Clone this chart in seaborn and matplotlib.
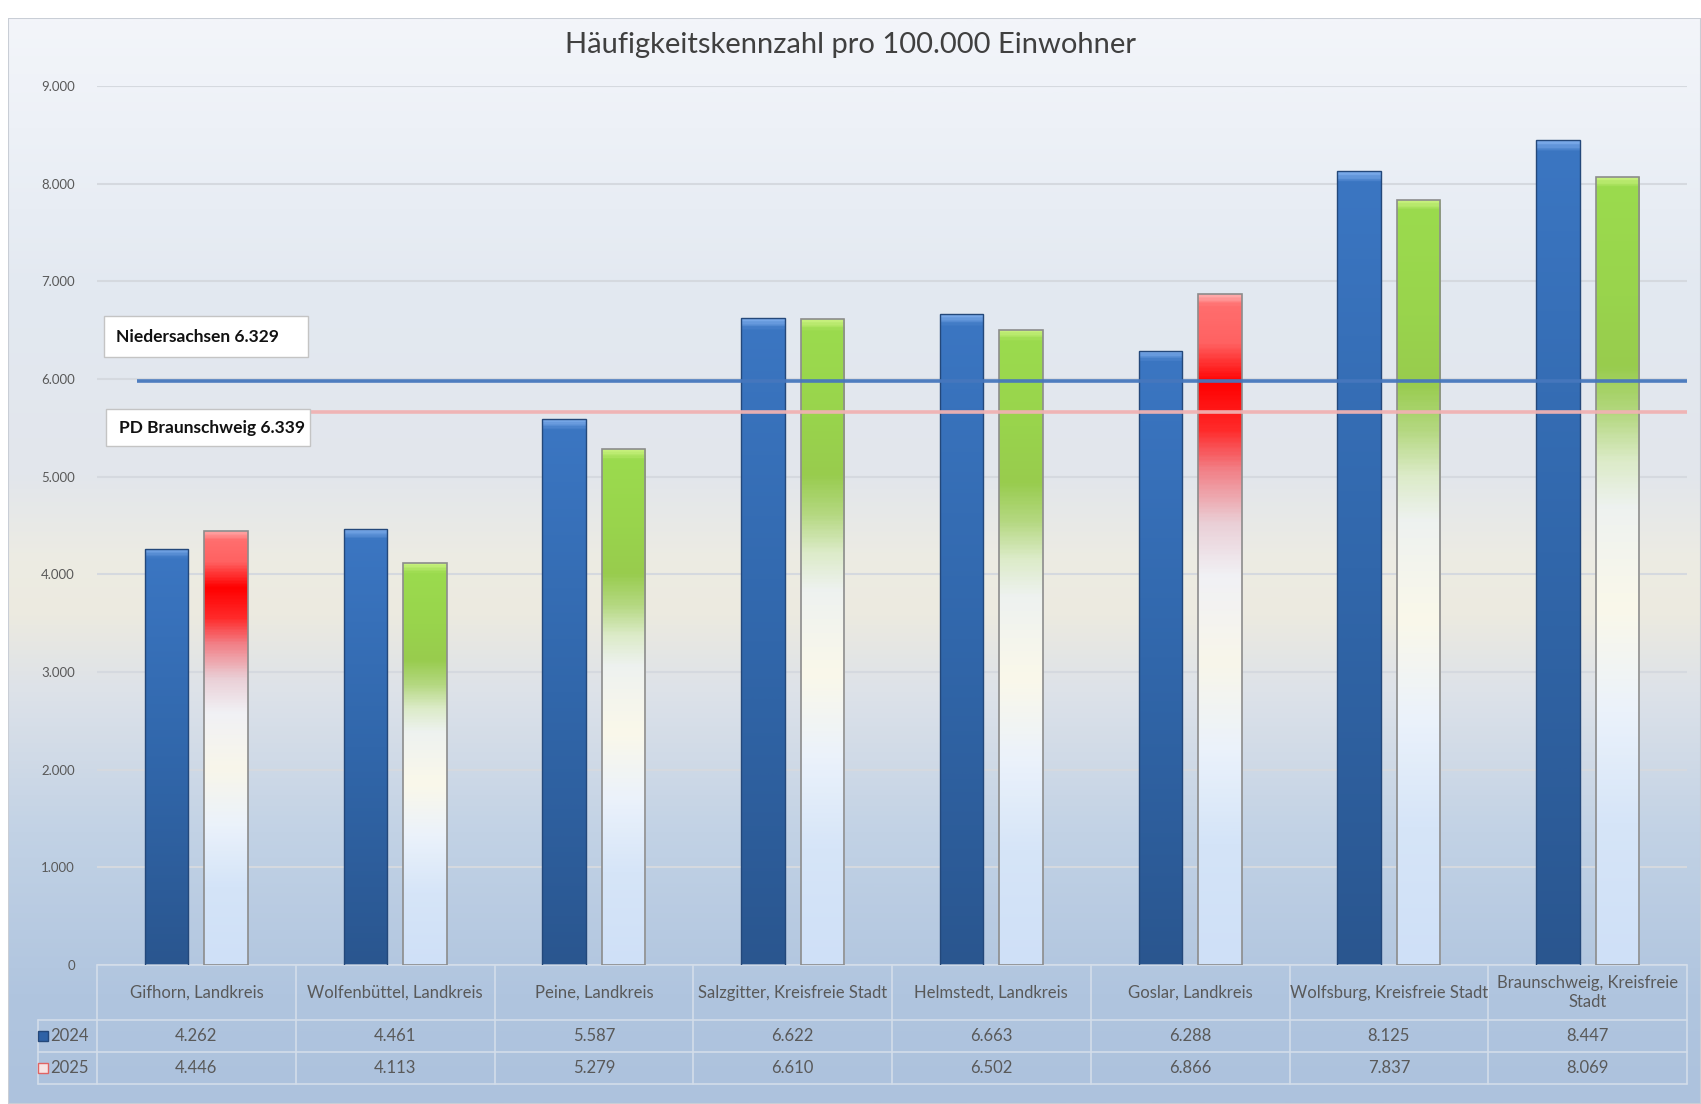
import numpy as np
import pandas as pd
import matplotlib
matplotlib.use("Agg")
from matplotlib import pyplot as plt
from matplotlib.colors import LinearSegmentedColormap
from matplotlib.patches import Rectangle
import matplotlib.transforms as mtransforms
import seaborn as sns

# daten
regionen = ["Gifhorn, Landkreis", "Wolfenbüttel, Landkreis", "Peine, Landkreis",
            "Salzgitter, Kreisfreie Stadt", "Helmstedt, Landkreis", "Goslar, Landkreis",
            "Wolfsburg, Kreisfreie Stadt", "Braunschweig, Kreisfreie\nStadt"]
werte_2024 = [4262, 4461, 5587, 6622, 6663, 6288, 8125, 8447]
werte_2025 = [4446, 4113, 5279, 6610, 6502, 6866, 7837, 8069]
jahre = ["2024", "2025"]
y_ticks = [0, 1000, 2000, 3000, 4000, 5000, 6000, 7000, 8000, 9000]
ref_namen = ["Niedersachsen 6.329", "PD Braunschweig 6.339"]
ref_werte = [5980, 5660]
titel = "Häufigkeitskennzahl pro 100.000 Einwohner"

df = pd.DataFrame({
    "Region": regionen * 2,
    "Wert": werte_2024 + werte_2025,
    "Jahr": [jahre[0]] * len(regionen) + [jahre[1]] * len(regionen),
})


def fmt(v):
    return "{:,}".format(v).replace(",", ".")


sns.set_style("white")
plt.rcParams["font.family"] = ["Lato", "DejaVu Sans"]

W, H = 1701, 1104
fig = plt.figure(figsize=(W / 100, H / 100), dpi=100)
fig.patch.set_facecolor("white")

# hintergrund mit verlauf
bg = fig.add_axes([8 / W, 0, 1 - 8 / W, 1 - 18 / H])
bg_cmap = LinearSegmentedColormap.from_list("bg", [
    (0.00, "#adc2dd"), (0.10, "#b0c5df"), (0.25, "#c2d2e5"), (0.38, "#dde2e9"),
    (0.45, "#eceae0"), (0.50, "#edece3"), (0.58, "#e2e6ec"), (0.75, "#e3e9f1"),
    (0.90, "#edf1f7"), (1.00, "#f3f5fa")])
bg.imshow(np.linspace(0, 1, 512).reshape(-1, 1), cmap=bg_cmap, origin="lower",
          aspect="auto", extent=(0, 1, 0, 1))
bg.set_axis_off()
bg.add_patch(Rectangle((0, 0), 1, 1, transform=bg.transAxes, fill=False,
                       edgecolor="#c9ced6", lw=1.5))

ax = fig.add_axes([97 / W, 1 - 965 / H, 1590 / W, 879 / H])
ax.set_facecolor("none")

sns.barplot(data=df, x="Region", y="Wert", hue="Jahr", order=regionen,
            hue_order=jahre, width=0.6, gap=0.27, palette=["#3a72bd", "#dde9f8"],
            legend=False, saturation=1, ax=ax)

blau = [(0.0, "#2a568f"), (0.5, "#3167ab"), (1.0, "#3b76c2")]
rot = [(0.0, "#cfe0f7"), (0.18, "#d4e4f8"), (0.32, "#ebf2fb"), (0.45, "#f8f6ea"),
       (0.58, "#f1f1f5"), (0.66, "#eacfd6"), (0.74, "#f27f86"), (0.80, "#ff2a2a"),
       (0.87, "#ff0000"), (0.93, "#ff6262"), (1.0, "#ff6e6e")]
gruen = [(0.0, "#cfe0f7"), (0.18, "#d6e5f8"), (0.32, "#ebf2fb"), (0.45, "#faf8ea"),
         (0.58, "#eef2f0"), (0.64, "#dcebc8"), (0.70, "#b4d880"), (0.76, "#98cc4e"),
         (0.85, "#99d44c"), (1.0, "#9bdb4e")]


def verlauf(patch, stops, bevel_col):
    x0, h, w = patch.get_x(), patch.get_height(), patch.get_width()
    bf = 90.0 / h
    st = [s for s in stops if s[0] < 1 - bf] + [(1 - bf, stops[-1][1]), (1.0, bevel_col)]
    cm = LinearSegmentedColormap.from_list("v", st)
    im = ax.imshow(np.linspace(0, 1, 400).reshape(-1, 1), cmap=cm, origin="lower",
                   aspect="auto", extent=(x0, x0 + w, 0, h), zorder=2)
    im.set_clip_path(patch)


for p in ax.containers[0]:
    verlauf(p, blau, "#78a8e8")
    p.set_edgecolor("#24487a")
    p.set_linewidth(1)
    p.set_zorder(3)
    p.set_facecolor("none")
for p, a, b in zip(ax.containers[1], werte_2024, werte_2025):
    if b > a:
        verlauf(p, rot, "#ffa8a8")
    else:
        verlauf(p, gruen, "#c6f07c")
    p.set_edgecolor("#8c8c8c")
    p.set_linewidth(1.2)
    p.set_zorder(3)
    p.set_facecolor("none")

# referenzlinien
ax.hlines(ref_werte[0], -0.30, 7.5, color="#4677bd", lw=2.6, zorder=4, alpha=0.95)
ax.hlines(ref_werte[1], 0.567, 7.5, color="#f0b2b2", lw=2.6, zorder=4, alpha=0.95)

for (x0, y0, h, tx), name in zip([(0.0044, 0.6917, 0.0466, 0.012),
                                  (0.0057, 0.5904, 0.0421, 0.0138)], ref_namen):
    ax.add_patch(Rectangle((x0, y0), 0.128, h, transform=ax.transAxes,
                           facecolor="white", edgecolor="#c4c4c4", lw=1, zorder=5))
    ax.text(tx, y0 + h / 2, name, transform=ax.transAxes, ha="left", va="center",
            fontsize=12.5, fontweight="bold", color="#111111", zorder=6)

ax.set_xlim(-0.5, 7.5)
ax.set_ylim(0, 9000)
ax.set_yticks(y_ticks)
ax.set_yticklabels([fmt(v) for v in y_ticks], fontsize=9.5, color="#595959")
ax.tick_params(axis="y", length=0, pad=16)
ax.set_xticks([])
ax.set_xlabel("")
ax.set_ylabel("")
ax.yaxis.grid(True, color="#d5d9df", lw=1.5)
ax.set_axisbelow(True)
for s in ax.spines.values():
    s.set_visible(False)

# datentabelle
trans = mtransforms.blended_transform_factory(ax.transData, ax.transAxes)
lc = "#d3ddea"
y_kopf, y_r1, y_r2 = -0.0626, -0.099, -0.1354
links = -0.797
for i in range(len(regionen) + 1):
    ax.plot([i - 0.5, i - 0.5], [0, y_r2], color=lc, lw=1.2, transform=trans, clip_on=False)
ax.plot([-0.5, 7.5], [0, 0], color=lc, lw=1.2, transform=trans, clip_on=False)
for yy in [y_kopf, y_r1, y_r2]:
    ax.plot([links, 7.5], [yy, yy], color=lc, lw=1.2, transform=trans, clip_on=False)
ax.plot([links, links], [y_kopf, y_r2], color=lc, lw=1.2, transform=trans, clip_on=False)

for i, r in enumerate(regionen):
    ax.text(i, y_kopf / 2, r, transform=trans, ha="center", va="center",
            fontsize=12, color="#595959", linespacing=1.3)
    ax.text(i, (y_kopf + y_r1) / 2, fmt(werte_2024[i]), transform=trans, ha="center",
            va="center", fontsize=12, color="#595959")
    ax.text(i, (y_r1 + y_r2) / 2, fmt(werte_2025[i]), transform=trans, ha="center",
            va="center", fontsize=12, color="#595959")

ax.plot([-0.772], [(y_kopf + y_r1) / 2], marker="s", ms=7, mfc="#2f62a6", mec="#24487a",
        transform=trans, clip_on=False)
ax.plot([-0.772], [(y_r1 + y_r2) / 2], marker="s", ms=7, mfc="#f7e4e4", mec="#e06464",
        transform=trans, clip_on=False)
ax.text(-0.738, (y_kopf + y_r1) / 2, jahre[0], transform=trans, ha="left", va="center",
        fontsize=12, color="#595959")
ax.text(-0.738, (y_r1 + y_r2) / 2, jahre[1], transform=trans, ha="left", va="center",
        fontsize=12, color="#595959")

fig.text(0.5, 1 - 45 / H, titel, ha="center", va="center", fontsize=21, color="#404040")

fig.savefig("out.png", dpi=100)
